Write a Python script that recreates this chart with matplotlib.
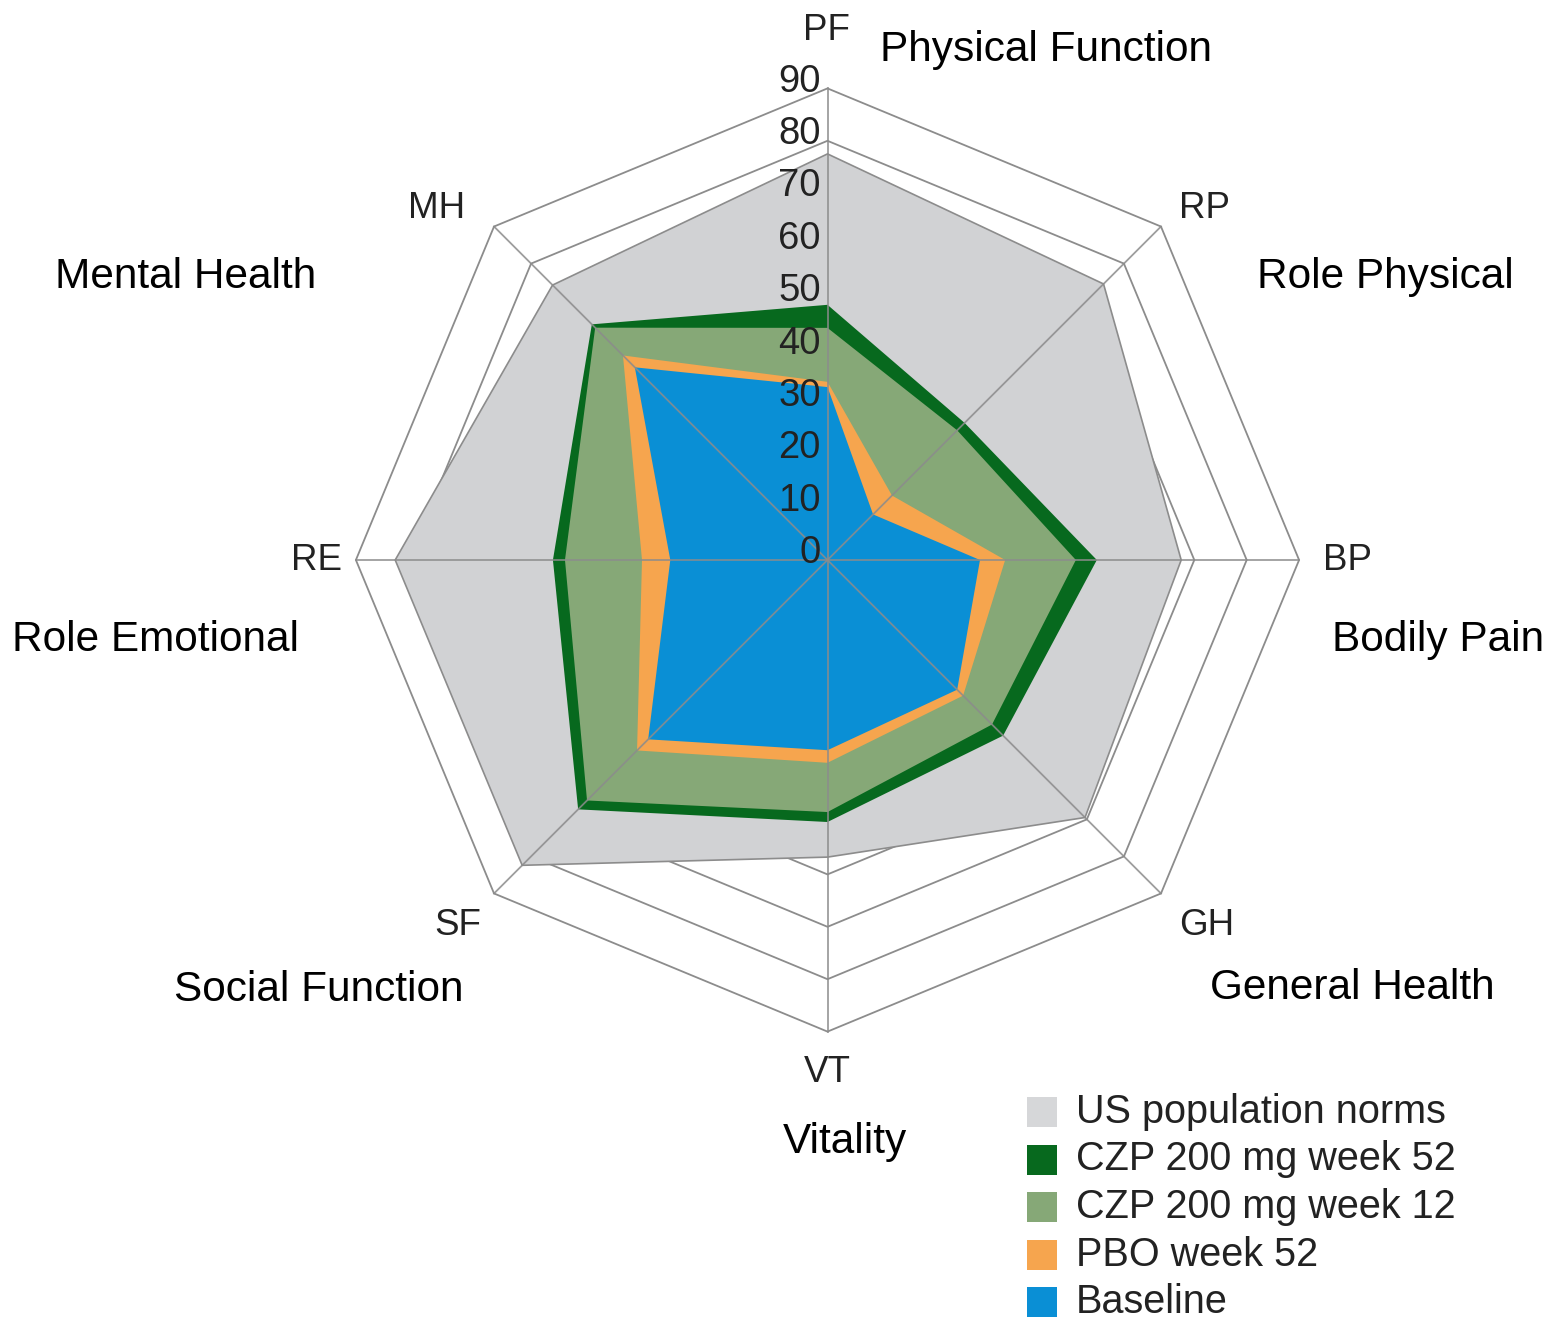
import numpy as np
import matplotlib
matplotlib.use("Agg")
from matplotlib import pyplot as plt
from matplotlib.patches import Rectangle

# SF-36 domains, clockwise from the top
domains = ["PF", "RP", "BP", "GH", "VT", "SF", "RE", "MH"]
domain_names = ["Physical Function", "Role Physical", "Bodily Pain", "General Health",
                "Vitality", "Social Function", "Role Emotional", "Mental Health"]

# scores
us_norms = [77.5, 74.5, 67.5, 69.5, 56.7, 82.4, 82.5, 74.2]
czp_wk52 = [48.7, 37.0, 51.4, 47.4, 50.0, 67.3, 52.4, 63.6]
czp_wk12 = [44.3, 35.0, 47.4, 44.4, 48.1, 64.9, 50.1, 62.7]
pbo_wk52 = [34.0, 17.4, 33.9, 36.6, 38.7, 51.4, 35.4, 55.2]
baseline = [33.0, 12.3, 29.1, 35.0, 36.3, 48.4, 30.0, 52.0]

series_labels = ["US population norms", "CZP 200 mg week 52", "CZP 200 mg week 12",
                 "PBO week 52", "Baseline"]
ring_values = [10, 20, 30, 40, 50, 60, 70, 80, 90]
tick_labels = ["0", "10", "20", "30", "40", "50", "60", "70", "80", "90"]

colors = ["#d1d2d4", "#07691e", "#86a877", "#f6a54e", "#0a8fd5"]
grid_col = "#8c8c8c"
txt_col = "#222222"

# pixel layout helpers (figure is 1552x1323, chart centre at 827.5, 560)
W, H = 1552, 1323
CX, CY, S = 827.5, 560.0, 5.24

def px(x, y):
    return (x - CX) / S, (CY - y) / S

angles = np.deg2rad(90 - 45 * np.arange(len(domains)))

def xy(vals):
    v = np.asarray(vals)
    return v * np.cos(angles), v * np.sin(angles)

fig = plt.figure(figsize=(W / 100, H / 100), dpi=100)
ax = fig.add_axes([0, 0, 1, 1])
ax.set_xlim(-CX / S, (W - CX) / S)
ax.set_ylim(-(H - CY) / S, CY / S)
ax.axis("off")

# octagon rings
for r in ring_values:
    x, y = xy([r] * len(domains))
    ax.fill(x, y, facecolor="none", edgecolor=grid_col, lw=1.3, zorder=1)

# filled areas, largest first
series = [us_norms, czp_wk52, czp_wk12, pbo_wk52, baseline]
for i, (vals, c) in enumerate(zip(series, colors)):
    x, y = xy(vals)
    if i == 0:
        ax.fill(x, y, facecolor=c, edgecolor=grid_col, lw=1.2, zorder=2)
    else:
        ax.fill(x, y, facecolor=c, edgecolor="none", zorder=2 + i)

# spokes on top
for a in angles:
    ax.plot([0, 90 * np.cos(a)], [0, 90 * np.sin(a)], color=grid_col, lw=1.3,
            alpha=0.85, zorder=10)

# radial tick labels along PF axis
tx = px(821, 0)[0]
for v, lab in zip([0] + ring_values, tick_labels):
    ax.text(tx, v + 1.3, lab, ha="right", va="center", fontsize=27.5,
            family="Liberation Sans", color=txt_col, zorder=11)

# abbreviations and full names
abbr_pos = [(826, 30), (1205, 208), (1347, 560), (1207, 925),
            (827, 1072), (458, 925), (316, 560), (437, 208)]
name_pos = [(1046, 50), (1385, 277), (1438, 640), (1352, 988),
            (845, 1142), (319, 990), (155, 640), (186, 277)]
for ab, nm, pa, pn in zip(domains, domain_names, abbr_pos, name_pos):
    ax.text(*px(*pa), ab, ha="center", va="center", fontsize=26.5,
            family="Liberation Sans", color=txt_col)
    ax.text(*px(*pn), nm, ha="center", va="center", fontsize=30.5,
            family="Liberation Sans", color="black")

# legend
leg_col = ["#d6d7d9"] + colors[1:]
for i, (lab, c) in enumerate(zip(series_labels, leg_col)):
    yc = 1112 + 47.5 * i
    x0, y0 = px(1027, yc + 15)
    ax.add_patch(Rectangle((x0, y0), 30 / S, 30 / S, facecolor=c, edgecolor="none",
                           clip_on=False))
    ax.text(*px(1076, yc), lab, ha="left", va="center", fontsize=28.5,
            family="Liberation Sans", color=txt_col)

fig.savefig("out.png", dpi=100)
